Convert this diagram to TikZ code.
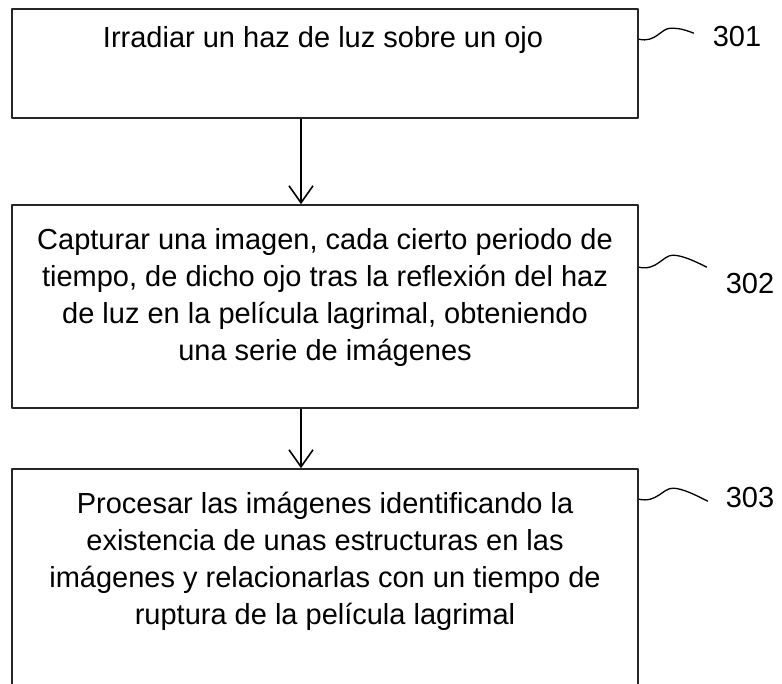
\documentclass[tikz,border=0pt]{standalone}
\usepackage{fontspec}
\setmainfont{Liberation Sans}
\usetikzlibrary{arrows.meta}
\begin{document}
\begin{tikzpicture}[x=1pt,y=-1pt,line join=round,>={Straight Barb[length=17pt,width=24pt]},
 font=\fontsize{29}{37}\selectfont,
 stepbox/.style={draw=black!85,line width=1.6pt,minimum width=626pt,inner sep=0pt},
 steptext/.style={align=center,inner sep=0pt},
 leader/.style={line width=1.3pt},
 flow/.style={->,line width=1.6pt}]
 \useasboundingbox (0,0) rectangle (782,684);
 \clip (0,0) rectangle (782,684);
 % boxes
 \node[stepbox,minimum height=109pt] (s1) at (325,63.5) {};
 \node[stepbox,minimum height=203pt] (s2) at (325,306.5) {};
 \node[stepbox,minimum height=240pt] (s3) at (325,589) {};
 % texts
 \node[steptext] (t1) at (323,40) {Irradiar un haz de luz sobre un ojo};
 \node[steptext] (t2) at (325,298) {Capturar una imagen, cada cierto periodo de\\tiempo, de dicho ojo tras la reflexión del haz\\de luz en la película lagrimal, obteniendo\\una serie de imágenes};
 \node[steptext] (t3) at (325,561) {Procesar las imágenes identificando la\\existencia de unas estructuras en las\\imágenes y relacionarlas con un tiempo de\\ruptura de la película lagrimal};
 % arrows
 \draw[flow] ([xshift=-24pt]s1.south) -- ([xshift=-24pt]s2.north);
 \draw[flow] ([xshift=-24pt]s2.south) -- ([xshift=-24pt]s3.north);
 % reference numbers
 \node (n1) at (737,37) {301};
 \node (n2) at (750,284) {302};
 \node (n3) at (750,498) {303};
 \draw[leader] ([yshift=-31pt]s1.north east) .. controls +(17,4) and +(-10,0) .. ++(32,-11) .. controls +(10,0) and +(-8,-3) .. ++(23,5);
 \draw[leader] ([yshift=-63pt]s2.north east) .. controls +(18,4) and +(-10,0) .. ++(34,-12) .. controls +(10,0) and +(-10,-5) .. ++(34,12);
 \draw[leader] ([yshift=-31pt]s3.north east) .. controls +(18,4) and +(-10,0) .. ++(34,-11) .. controls +(10,0) and +(-10,-5) .. ++(35,13);
\end{tikzpicture}
\end{document}
